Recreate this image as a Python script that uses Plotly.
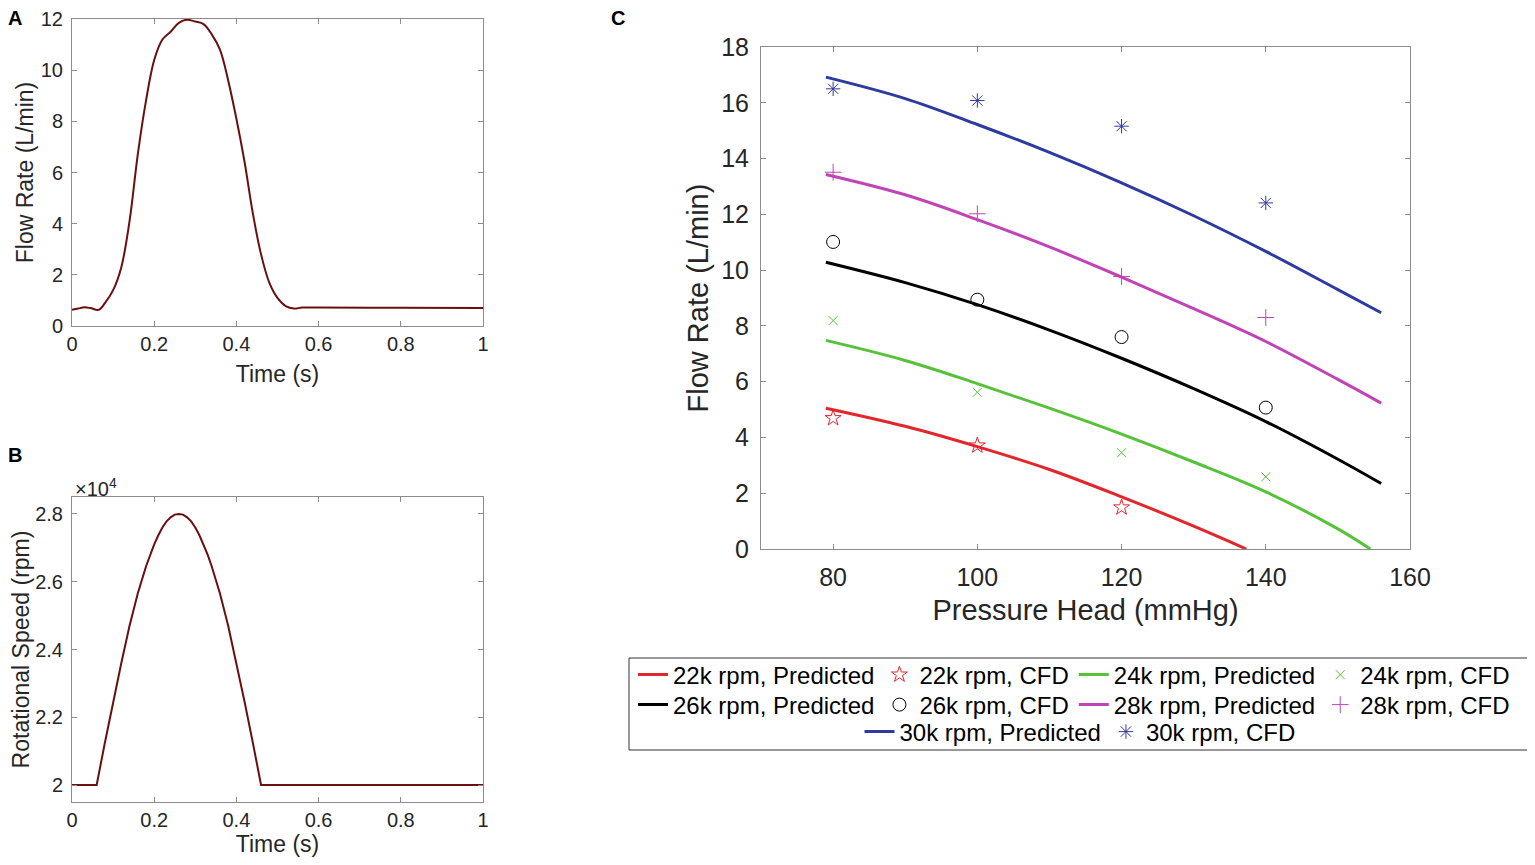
import plotly.graph_objects as go

# ------------------------------------------------------------------
# Data
# ------------------------------------------------------------------
# Panel A: flow waveform
TIME_A = [0, 0.015, 0.03, 0.045, 0.065, 0.08, 0.10, 0.12, 0.14, 0.16, 0.18,
          0.20, 0.22, 0.24, 0.26, 0.28, 0.30, 0.32, 0.34, 0.36, 0.38, 0.40,
          0.42, 0.44, 0.46, 0.48, 0.50, 0.52, 0.54, 0.56, 0.60, 0.80, 1.00]
FLOW_A = [0.63, 0.68, 0.73, 0.70, 0.63, 0.89, 1.40, 2.30, 4.10, 6.70, 8.80,
          10.40, 11.20, 11.50, 11.85, 11.97, 11.90, 11.80, 11.40, 10.80, 9.60,
          8.10, 6.40, 4.40, 2.80, 1.70, 1.10, 0.78, 0.68, 0.72, 0.72, 0.71, 0.70]

# Panel B: rotational speed waveform (rpm)
TIME_B = [0, 0.06, 0.08, 0.10, 0.12, 0.14, 0.16, 0.18, 0.19, 0.20, 0.21, 0.22,
          0.23, 0.24, 0.25, 0.26, 0.27, 0.28, 0.29, 0.30, 0.31, 0.32, 0.33,
          0.34, 0.36, 0.38, 0.40, 0.42, 0.44, 0.46, 1.00]
SPEED_B = [20000, 20000, 21250, 22450, 23600, 24700, 25650, 26450, 26800,
           27100, 27370, 27600, 27780, 27900, 27980, 28000, 27980, 27900,
           27780, 27600, 27370, 27100, 26800, 26450, 25650, 24700, 23600,
           22450, 21250, 20000, 20000]

# Panel C: predicted curves (pressure head in mmHg, flow in L/min)
PRED_P = [79, 90, 100, 110, 120, 130, 140, 150, 156]
PRED_22K_P = [79, 90, 100, 110, 120, 130, 137.3]
PRED_22K = [5.05, 4.40, 3.67, 2.85, 1.87, 0.82, 0.0]
PRED_24K_P = [79, 90, 100, 110, 120, 130, 140, 150, 154.5]
PRED_24K = [7.48, 6.76, 5.93, 5.05, 4.12, 3.12, 2.05, 0.72, 0.0]
PRED_26K = [10.28, 9.55, 8.76, 7.85, 6.84, 5.75, 4.57, 3.22, 2.35]
PRED_28K = [13.43, 12.70, 11.81, 10.83, 9.75, 8.62, 7.44, 6.08, 5.23]
PRED_30K = [16.92, 16.15, 15.22, 14.22, 13.13, 11.95, 10.67, 9.30, 8.47]

# Panel C: CFD points
CFD_P = [80, 100, 120, 140]
CFD_22K = [4.69, 3.71, 1.49]
CFD_24K = [8.19, 5.62, 3.45, 2.59]
CFD_26K = [11.01, 8.94, 7.60, 5.07]
CFD_28K = [13.51, 12.02, 9.77, 8.30]
CFD_30K = [16.50, 16.08, 15.16, 12.41]

# ------------------------------------------------------------------
# Style
# ------------------------------------------------------------------
FONT = "Liberation Sans, Arial, Helvetica, sans-serif"
TXT = "#262626"
AXC = "#8c8c8c"
WAVE = "#6a0f0f"

RED, GREEN, BLACK, MAG, BLUE = "#e3262b", "#55c23a", "#000000", "#c044b5", "#2d3a9f"

# page has an 8px body margin, so the figure is drawn 16px smaller
PAGE_PAD = 8
W, H = 1535 - 2 * PAGE_PAD, 865 - 2 * PAGE_PAD


def fx(x):  # screen pixel -> paper x
    return (x - PAGE_PAD) / W


def fy(y):  # screen pixel -> paper y
    return 1 - (y - PAGE_PAD) / H


fig = go.Figure()

# Panel A
fig.add_trace(go.Scatter(x=TIME_A, y=FLOW_A, mode="lines", line_shape="spline",
                         line=dict(color=WAVE, width=2), showlegend=False,
                         xaxis="x", yaxis="y"))
# Panel B
fig.add_trace(go.Scatter(x=TIME_B, y=SPEED_B, mode="lines",
                         line=dict(color=WAVE, width=2), showlegend=False,
                         xaxis="x2", yaxis="y2"))

# Panel C
series = [
    ("22k", RED, PRED_22K_P, PRED_22K, CFD_P[:3], CFD_22K, "star-open", 12, "legend"),
    ("24k", GREEN, PRED_24K_P, PRED_24K, CFD_P, CFD_24K, "x-thin-open", 9, "legend"),
    ("26k", BLACK, PRED_P, PRED_26K, CFD_P, CFD_26K, "circle-open", 13, "legend2"),
    ("28k", MAG, PRED_P, PRED_28K, CFD_P, CFD_28K, "cross-thin-open", 12, "legend2"),
    ("30k", BLUE, PRED_P, PRED_30K, CFD_P, CFD_30K, "asterisk-open", 12, "legend3"),
]
for name, col, px_, py_, cx, cy, sym, size, leg in series:
    fig.add_trace(go.Scatter(
        x=px_, y=py_, mode="lines", line_shape="spline",
        line=dict(color=col, width=3), name=f"{name} rpm, Predicted",
        legend=leg, xaxis="x3", yaxis="y3"))
    fig.add_trace(go.Scatter(
        x=cx, y=cy, mode="markers", name=f"{name} rpm, CFD",
        marker=dict(symbol=sym, size=size, color=col, line=dict(color=col, width=1)),
        legend=leg, xaxis="x3", yaxis="y3"))


def ax(domain, rng, dtick, tick_size, anchor, title=None, title_size=None, standoff=None,
       label_gap=0, tickvals=None, ticktext=None):
    d = dict(domain=domain, range=rng, anchor=anchor, showgrid=False, zeroline=False,
             automargin=False, showline=True, linecolor=AXC, linewidth=1, mirror="ticks",
             ticks="inside", ticklen=5, tickcolor=AXC, ticklabelstandoff=label_gap,
             tickfont=dict(family=FONT, size=tick_size, color=TXT))
    if tickvals is not None:
        d.update(tickmode="array", tickvals=tickvals, ticktext=ticktext)
    else:
        d.update(dtick=dtick, tick0=0)
    if title:
        d["title"] = dict(text=title, font=dict(family=FONT, size=title_size, color=TXT),
                          standoff=standoff)
    return d


XA = [fx(72), fx(483)]
LEG_FONT = dict(family=FONT, size=24, color="#000")
fig.update_layout(
    width=W, height=H,
    margin=dict(l=0, r=0, t=0, b=0, autoexpand=False),
    paper_bgcolor="white", plot_bgcolor="white",
    font=dict(family=FONT, color=TXT),
    xaxis=ax(XA, [0, 1], 0.2, 20, "y", "Time (s)", 23, 11),
    yaxis=ax([fy(326), fy(19)], [0, 12], 2, 20, "x", "Flow Rate (L/min)", 23, 0,
             label_gap=4),
    xaxis2=ax(XA, [0, 1], 0.2, 20, "y2", "Time (s)", 23, 11),
    yaxis2=ax([fy(802), fy(497)], [19500, 28500], None, 20, "x2",
              "Rotational Speed (rpm)", 23, 2, label_gap=4,
              tickvals=[20000, 22000, 24000, 26000, 28000],
              ticktext=["2", "2.2", "2.4", "2.6", "2.8"]),
    xaxis3=ax([fx(761), fx(1410)], [70, 160], 20, 25, "y3", "Pressure Head (mmHg)", 29, 9,
              label_gap=6),
    yaxis3=ax([fy(549), fy(47)], [0, 18], 2, 25, "x3", "Flow Rate (L/min)", 29, 4,
              label_gap=6),
    legend=dict(orientation="h", x=fx(633), xanchor="left", y=fy(675), yanchor="middle",
                font=LEG_FONT, bgcolor="rgba(0,0,0,0)"),
    legend2=dict(orientation="h", x=fx(633), xanchor="left", y=fy(705), yanchor="middle",
                 font=LEG_FONT, bgcolor="rgba(0,0,0,0)"),
    legend3=dict(orientation="h", x=fx(1080), xanchor="center", y=fy(732), yanchor="middle",
                 font=LEG_FONT, bgcolor="rgba(0,0,0,0)"),
)

# Legend frame
fig.add_shape(type="rect", xref="paper", yref="paper",
              x0=fx(629), x1=fx(1530), y0=fy(750), y1=fy(658),
              line=dict(color="#333", width=1), fillcolor="rgba(0,0,0,0)")

# x10^4 exponent label and panel letters
fig.add_annotation(x=fx(73), y=fy(487), xref="paper", yref="paper", xanchor="left",
                   yanchor="middle", showarrow=False, text="×10<sup>4</sup>",
                   font=dict(family=FONT, size=20, color=TXT))
for letter, lx, ly in [("A", 15, 18), ("B", 15, 455), ("C", 618, 18)]:
    fig.add_annotation(x=fx(lx), y=fy(ly), xref="paper", yref="paper",
                       xanchor="center", yanchor="middle", showarrow=False,
                       text=f"<b>{letter}</b>", font=dict(family=FONT, size=20, color="#000"))

fig.write_html("out.html")
